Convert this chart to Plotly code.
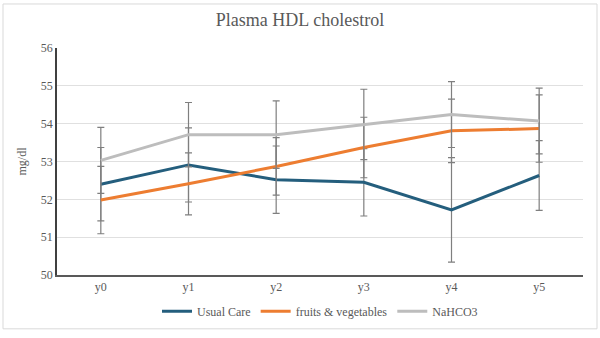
import plotly.graph_objects as go

categories = ["y0", "y1", "y2", "y3", "y4", "y5"]
usual_care = [52.40, 52.91, 52.52, 52.45, 51.72, 52.63]
usual_care_err = [0.97, 0.98, 0.89, 0.89, 1.38, 0.92]
fruits_veg = [51.98, 52.41, 52.87, 53.37, 53.81, 53.87]
fruits_veg_err = [0.89, 0.82, 0.76, 0.80, 0.84, 0.89]
nahco3 = [53.03, 53.71, 53.71, 53.98, 54.24, 54.07]
nahco3_err = [0.87, 0.85, 0.89, 0.93, 0.87, 0.87]
y_ticks = [50, 51, 52, 53, 54, 55, 56]

FONT = "Liberation Serif, Times New Roman, serif"
TXT = "#595959"
ERR = "#7f7f7f"

fig = go.Figure()
series = [
    ("Usual Care", usual_care, usual_care_err, "#245E7D"),
    ("fruits & vegetables", fruits_veg, fruits_veg_err, "#ED7D31"),
    ("NaHCO3", nahco3, nahco3_err, "#BDBDBD"),
]
for name, vals, errs, col in series:
    fig.add_trace(go.Scatter(
        x=categories, y=vals, name=name, mode="lines",
        line=dict(color=col, width=3),
        error_y=dict(type="data", array=errs, visible=True,
                     color=ERR, thickness=1.2, width=3.5),
    ))

W, H = 600, 338
L, R, T, B = 57, 17, 48, 58
pw, ph = W - L - R, H - T - B

def px_x(p):
    return (p - L) / pw

def px_y(p):
    return (H - B - p) / ph

fig.add_shape(type="rect", xref="paper", yref="paper",
              x0=px_x(3), x1=px_x(597), y0=px_y(335), y1=px_y(3),
              line=dict(color="#d9d9d9", width=1), layer="below")

fig.update_layout(
    width=W, height=H,
    margin=dict(l=L, r=R, t=T, b=B),
    paper_bgcolor="white", plot_bgcolor="white",
    font=dict(family=FONT, color=TXT, size=12),
    title=dict(text="Plasma HDL cholestrol", x=0.5, xanchor="center",
               y=1 - 20 / H, yanchor="middle",
               font=dict(size=18, color=TXT, family=FONT)),
    showlegend=True,
    legend=dict(orientation="h", x=0.5, xanchor="center",
                y=px_y(317), yanchor="middle",
                font=dict(size=12, color=TXT, family=FONT),
                itemwidth=30, tracegroupgap=0),
    xaxis=dict(showgrid=False, showline=True, linecolor="#595959",
               linewidth=1.5, ticks="", tickfont=dict(size=12, color=TXT),
               range=[-0.5, 5.5]),
    yaxis=dict(range=[50, 56], tickvals=y_ticks, showgrid=True,
               gridcolor="#e0e0e0", gridwidth=1, showline=True,
               linecolor="#404040", linewidth=1.5, ticks="",
               zeroline=False, ticklen=0, tickfont=dict(size=12, color=TXT),
               title=dict(text="mg/dl", standoff=12,
                          font=dict(size=12, color=TXT, family=FONT))),
)

fig.write_html("out.html")
